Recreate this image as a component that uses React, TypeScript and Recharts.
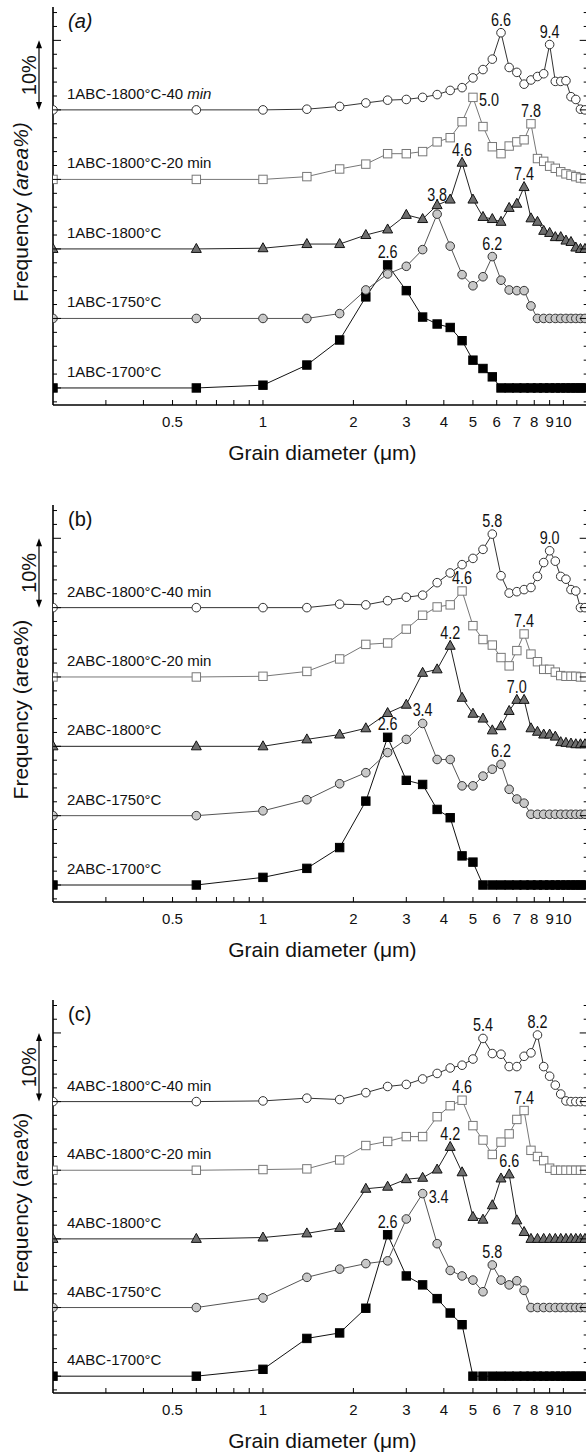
import React from 'react';
import { LineChart, Line, XAxis, YAxis, ReferenceLine } from 'recharts';

const FONT = '"Liberation Sans", Arial, Helvetica, sans-serif';

// grain diameter bins (um)
const grainSize = [0.2, 0.6, 1.0, 1.4, 1.8, 2.2, 2.6, 3.0, 3.4, 3.8, 4.2, 4.6, 5.0, 5.4, 5.8, 6.2, 6.6, 7.0, 7.4, 7.8, 8.2, 8.6, 9.0, 9.4, 9.8, 10.2, 10.6, 11.0, 11.4, 11.8];

const xTicks = [0.3, 0.4, 0.5, 0.6, 0.7, 0.8, 0.9, 1, 2, 3, 4, 5, 6, 7, 8, 9, 10];
const xTickLabels = ['', '', '0.5', '', '', '', '', '1', '2', '3', '4', '5', '6', '7', '8', '9', '10'];
const yTicks = [-2, 0, 2, 4, 6, 8, 10, 12, 14, 16, 18, 20, 22, 24, 26, 28, 30, 32, 34, 36, 38, 40, 42, 44, 46, 48, 50, 52, 54];

// curves are stacked, each shifted up by its offset (area%)
const seriesNames = ['-1700°C', '-1750°C', '-1800°C', '-1800°C-20 min', '-1800°C-40 min'];
const seriesOffset = [0, 10, 20, 30, 40];

// (a) 1ABC
const a1700 = [0, 0, 0.4, 3.3, 6.9, 13.1, 17.7, 14.0, 10.2, 9.2, 8.7, 6.8, 4.0, 2.8, 1.6, 0, 0, 0, 0, 0, 0, 0, 0, 0, 0, 0, 0, 0, 0, 0];
const a1750 = [0, 0, 0, 0, 0.7, 4.1, 6.4, 7.5, 9.9, 15.0, 10.4, 6.3, 4.7, 6.0, 8.9, 5.5, 4.1, 4.0, 4.0, 1.8, 0, 0, 0, 0, 0, 0, 0, 0, 0, 0];
const a1800 = [0, 0, 0.1, 0.7, 0.7, 2.0, 2.8, 4.9, 4.3, 6.3, 7.1, 12.4, 7.1, 4.6, 4.3, 3.9, 5.9, 6.5, 8.9, 4.4, 3.9, 2.6, 2.3, 1.7, 1.7, 1.2, 1.0, 0.2, 0, 0];
const a20min = [0, 0, 0, 0.4, 1.5, 2.2, 3.7, 3.7, 4.0, 5.4, 6.0, 8.3, 11.8, 7.6, 4.7, 3.7, 4.8, 5.4, 5.7, 8.0, 3.0, 2.6, 1.9, 1.6, 1.1, 0.8, 0.6, 0.4, 0.2, 0.1];
const a40min = [0, 0, 0, 0.1, 0.5, 1.0, 1.4, 1.5, 1.8, 2.2, 2.8, 3.2, 4.6, 5.8, 7.3, 11.1, 6.1, 5.4, 3.7, 4.3, 4.8, 5.2, 9.4, 4.1, 4.1, 4.2, 1.9, 1.5, 0.1, 0];

// (b) 2ABC
const b1700 = [0, 0, 1.1, 2.4, 5.4, 12.1, 21.3, 15.1, 14.5, 10.9, 9.7, 4.2, 3.3, 0, 0, 0, 0, 0, 0, 0, 0, 0, 0, 0, 0, 0, 0, 0, 0, 0];
const b1750 = [0, 0, 0.7, 2.3, 4.6, 6.2, 9.1, 11.0, 13.3, 8.1, 8.1, 4.3, 4.3, 5.7, 6.7, 7.4, 3.8, 2.4, 1.8, 0.2, 0.2, 0.2, 0.2, 0.2, 0.2, 0.2, 0.2, 0.2, 0.2, 0.2];
const b1800 = [0, 0, 0, 1.0, 1.7, 2.6, 4.8, 6.0, 10.6, 11.1, 14.5, 7.0, 4.7, 4.0, 2.3, 2.9, 5.1, 6.7, 6.7, 2.6, 2.1, 1.7, 1.7, 1.4, 0.6, 0.5, 0.4, 0.3, 0.3, 0.3];
const b20min = [0, 0, 0.1, 0.8, 2.6, 4.7, 4.9, 6.9, 8.9, 10.1, 10.4, 12.4, 7.4, 5.4, 4.6, 2.8, 1.6, 3.8, 6.2, 3.3, 2.2, 1.1, 1.1, 0.7, 0.2, 0.1, 0.1, 0.1, 0, 0];
const b40min = [0, 0, 0, 0, 0.5, 0.4, 1.0, 1.5, 1.8, 3.6, 5.0, 6.2, 7.1, 8.4, 10.6, 4.6, 2.1, 2.3, 2.6, 2.9, 4.5, 6.5, 8.2, 6.7, 4.5, 4.1, 2.6, 2.4, 0, 0];

// (c) 4ABC
const c1700 = [0, 0, 1.0, 5.5, 6.3, 9.9, 20.6, 14.6, 13.3, 11.3, 9.2, 7.5, 0, 0, 0, 0, 0, 0, 0, 0, 0, 0, 0, 0, 0, 0, 0, 0, 0, 0];
const c1750 = [0, 0, 1.4, 4.4, 5.6, 6.4, 6.8, 12.9, 16.6, 9.3, 5.4, 4.6, 4.0, 2.3, 6.2, 4.0, 3.3, 3.9, 2.5, 0, 0, 0, 0, 0, 0, 0, 0, 0, 0, 0];
const c1800 = [0, 0, 0.2, 0.8, 1.6, 7.3, 7.6, 8.7, 8.9, 10.1, 13.4, 9.7, 3.2, 2.8, 4.9, 8.8, 9.4, 2.7, 1.0, 0, 0, 0, 0, 0, 0, 0, 0, 0, 0, 0];
const c20min = [0, 0, 0.1, 0.2, 1.5, 3.6, 4.2, 4.9, 4.9, 7.8, 9.4, 10.2, 6.5, 4.4, 2.3, 4.1, 5.3, 7.4, 8.7, 2.9, 2.0, 1.4, 0.3, 0, 0, 0, 0, 0, 0, 0];
const c40min = [0, 0, 0.1, 0.5, 0.3, 1.3, 2.2, 2.5, 3.3, 4.1, 4.9, 5.3, 6.2, 9.2, 7.0, 6.9, 5.1, 5.1, 6.6, 7.1, 9.7, 5.1, 3.7, 2.4, 1.1, 0.1, 0, 0, 0, 0];

// peak labels, one list per curve
const aPeaks = [
  [{ x: 2.6, text: '2.6' }],
  [{ x: 3.8, text: '3.8', place: 'high' }, { x: 5.8, text: '6.2' }],
  [{ x: 4.6, text: '4.6' }, { x: 7.4, text: '7.4' }],
  [{ x: 5.0, text: '5.0', place: 'right' }, { x: 7.8, text: '7.8' }],
  [{ x: 6.2, text: '6.6' }, { x: 9.0, text: '9.4' }],
];
const bPeaks = [
  [{ x: 2.6, text: '2.6' }],
  [{ x: 3.4, text: '3.4' }, { x: 6.2, text: '6.2' }],
  [{ x: 4.2, text: '4.2' }, { x: 7.0, text: '7.0' }],
  [{ x: 4.6, text: '4.6' }, { x: 7.4, text: '7.4' }],
  [{ x: 5.8, text: '5.8' }, { x: 9.0, text: '9.0' }],
];
const cPeaks = [
  [{ x: 2.6, text: '2.6' }],
  [{ x: 3.4, text: '3.4', place: 'right' }, { x: 5.8, text: '5.8' }],
  [{ x: 4.2, text: '4.2' }, { x: 6.6, text: '6.6' }],
  [{ x: 4.6, text: '4.6' }, { x: 7.4, text: '7.4' }],
  [{ x: 5.4, text: '5.4' }, { x: 8.2, text: '8.2' }],
];

const SERIES_STYLE = [
  { marker: 'square', fill: '#000', stroke: '#000', line: '#111' },
  { marker: 'circle', fill: '#c8c8c8', stroke: '#333', line: '#555' },
  { marker: 'triangle', fill: '#6e6e6e', stroke: '#111', line: '#222' },
  { marker: 'square', fill: '#fff', stroke: '#777', line: '#777' },
  { marker: 'circle', fill: '#fff', stroke: '#333', line: '#333' },
];

const PANELS = [
  { tag: '(a)', prefix: '1ABC', top: 0, marginTop: 7, plotH: 398, italic: true, values: [a1700, a1750, a1800, a20min, a40min], peaks: aPeaks },
  { tag: '(b)', prefix: '2ABC', top: 498, marginTop: 7, plotH: 397, italic: false, values: [b1700, b1750, b1800, b20min, b40min], peaks: bPeaks },
  { tag: '(c)', prefix: '4ABC', top: 996, marginTop: 4, plotH: 393, italic: false, values: [c1700, c1750, c1800, c20min, c40min], peaks: cPeaks },
];

const CHART_W = 602;
const X_DOMAIN: [number, number] = [0.2, 12.05];
const Y_DOMAIN: [number, number] = [-2.45, 54.8];

const Marker = ({ type, cx, cy, fill, stroke }: any) => {
  if (type === 'square') {
    return <rect x={cx - 4.2} y={cy - 4.2} width={8.4} height={8.4} fill={fill} stroke={stroke} strokeWidth={1} />;
  }
  if (type === 'triangle') {
    return <path d={`M${cx},${cy - 5.5}L${cx + 5},${cy + 3.5}L${cx - 5},${cy + 3.5}Z`} fill={fill} stroke={stroke} strokeWidth={1} />;
  }
  return <circle cx={cx} cy={cy} r={4.3} fill={fill} stroke={stroke} strokeWidth={1} />;
};

const makeDot = (k: number, panel: any) => (props: any) => {
  const { cx, cy, index } = props;
  if (cx == null || cy == null) return <g key={`dot-${index}`} />;
  const st = SERIES_STYLE[k];
  const note = panel.peaks[k].find((p: any) => p.x === grainSize[index]);
  let name: any = null;
  if (index === 0) {
    name = panel.italic && k === 4
      ? <>{panel.prefix}-1800°C-40 <tspan fontStyle="italic">min</tspan></>
      : panel.prefix + seriesNames[k];
  }
  let noteEl = null;
  if (note) {
    let nx = cx, ny = cy - 7, anchor = 'middle';
    if (note.place === 'high') ny = cy - 13;
    if (note.place === 'right') { nx = cx + 6; ny = cy + 9; anchor = 'start'; }
    noteEl = (
      <text x={nx} y={ny} textAnchor={anchor} fontSize={18} textLength={20} lengthAdjust="spacingAndGlyphs" fill="#111" fontFamily={FONT}>
        {note.text}
      </text>
    );
  }
  return (
    <g key={`dot-${index}`}>
      <Marker type={st.marker} cx={cx} cy={cy} fill={st.fill} stroke={st.stroke} />
      {name && <text x={cx + 14} y={cy - 11} fontSize={15} fill="#111" fontFamily={FONT}>{name}</text>}
      {noteEl}
    </g>
  );
};

const XTick = (props: any) => {
  const { x, y, payload } = props;
  const i = xTicks.indexOf(payload.value);
  const label = i >= 0 ? xTickLabels[i] : '';
  return (
    <g>
      <line x1={x} y1={y} x2={x} y2={y - 5} stroke="#000" strokeWidth={1} />
      {label && <text x={x} y={y + 22} textAnchor="middle" fontSize={15} fill="#111" fontFamily={FONT}>{label}</text>}
    </g>
  );
};

const LeftTick = (props: any) => {
  const { x, y, payload } = props;
  const len = payload.value % 10 === 0 ? 8 : 4;
  return <line x1={x} y1={y} x2={x + len} y2={y} stroke="#000" strokeWidth={1} />;
};

const RightTick = (props: any) => {
  const { x, y, payload } = props;
  const len = payload.value % 10 === 0 ? 8 : 4;
  return <line x1={x - len} y1={y} x2={x} y2={y} stroke="#000" strokeWidth={1} />;
};

const ScaleBar = (props: any) => {
  const { x1, y1, y2 } = props;
  const top = Math.min(y1, y2);
  const bottom = Math.max(y1, y2);
  const ax = x1 - 14;
  return (
    <g>
      <line x1={ax} y1={top + 3} x2={ax} y2={bottom - 3} stroke="#000" strokeWidth={1.2} />
      <path d={`M${ax},${top}L${ax - 3},${top + 8}L${ax + 3},${top + 8}Z`} fill="#000" />
      <path d={`M${ax},${bottom}L${ax - 3},${bottom - 8}L${ax + 3},${bottom - 8}Z`} fill="#000" />
      <text transform={`translate(${ax - 3},${(top + bottom) / 2}) rotate(-90)`} textAnchor="middle" fontSize={20} fill="#111" fontFamily={FONT}>
        10%
      </text>
    </g>
  );
};

function Panel({ cfg }: { cfg: any }) {
  const rows = grainSize.map((x, i) => {
    const row: Record<string, number> = { x };
    cfg.values.forEach((vals: number[], k: number) => {
      row[`s${k}`] = seriesOffset[k] + vals[i];
    });
    return row;
  });
  const H = cfg.marginTop + cfg.plotH + 60;

  const yLabel = (p: any) => {
    const vb = p.viewBox;
    return (
      <g>
        <text transform={`translate(${vb.x + 28},${vb.y + vb.height / 2 + 6}) rotate(-90)`} textAnchor="middle" fontSize={21} fill="#111" fontFamily={FONT}>
          Frequency <tspan fontStyle={cfg.italic ? 'italic' : 'normal'}>(area%)</tspan>
        </text>
        <text x={vb.x + vb.width + 15} y={vb.y + 21} fontSize={20} fill="#111" fontStyle={cfg.italic ? 'italic' : 'normal'} fontFamily={FONT}>
          {cfg.tag}
        </text>
      </g>
    );
  };

  const xLabel = (p: any) => {
    const vb = p.viewBox;
    return (
      <text x={vb.x + vb.width / 2 + 2} y={vb.y + 55} textAnchor="middle" fontSize={21} fill="#111" fontFamily={FONT}>
        Grain diameter (μm)
      </text>
    );
  };

  return (
    <div style={{ position: 'absolute', left: 0, top: cfg.top, width: CHART_W, height: H }}>
      <LineChart width={CHART_W} height={H} data={rows} margin={{ top: cfg.marginTop, right: 0, bottom: 0, left: 0 }}>
        <XAxis
          dataKey="x"
          type="number"
          scale="log"
          domain={X_DOMAIN}
          allowDataOverflow
          ticks={xTicks}
          interval={0}
          tick={<XTick />}
          tickLine={false}
          tickSize={0}
          tickMargin={0}
          height={60}
          axisLine={{ stroke: '#000', strokeWidth: 1.6 }}
          label={xLabel}
        />
        <XAxis
          xAxisId="top"
          orientation="top"
          dataKey="x"
          type="number"
          scale="log"
          domain={X_DOMAIN}
          allowDataOverflow
          tick={false}
          tickLine={false}
          height={0}
          axisLine={{ stroke: '#000', strokeWidth: 1.6 }}
        />
        <YAxis
          type="number"
          domain={Y_DOMAIN}
          allowDataOverflow
          ticks={yTicks}
          interval={0}
          tick={<LeftTick />}
          tickLine={false}
          tickSize={0}
          tickMargin={0}
          width={53}
          axisLine={{ stroke: '#000', strokeWidth: 1.6 }}
          label={yLabel}
        />
        <YAxis
          yAxisId="r"
          orientation="right"
          type="number"
          domain={Y_DOMAIN}
          allowDataOverflow
          ticks={yTicks}
          interval={0}
          tick={<RightTick />}
          tickLine={false}
          tickSize={0}
          tickMargin={0}
          width={14.3}
          axisLine={{ stroke: '#000', strokeWidth: 1.6 }}
        />
        <ReferenceLine
          segment={[{ x: 0.2, y: seriesOffset[4] }, { x: 0.2, y: seriesOffset[4] + 10 }]}
          ifOverflow="visible"
          shape={ScaleBar}
        />
        {SERIES_STYLE.map((st, k) => (
          <Line
            key={k}
            dataKey={`s${k}`}
            type="linear"
            stroke={st.line}
            strokeWidth={1}
            dot={makeDot(k, cfg)}
            activeDot={false}
            isAnimationActive={false}
          />
        ))}
      </LineChart>
    </div>
  );
}

export default function App() {
  return (
    <div style={{ position: 'absolute', left: 0, top: 0, width: 586, height: 1452, overflow: 'hidden', background: '#fff', fontFamily: FONT }}>
      {PANELS.map((p) => (
        <Panel key={p.tag} cfg={p} />
      ))}
    </div>
  );
}
